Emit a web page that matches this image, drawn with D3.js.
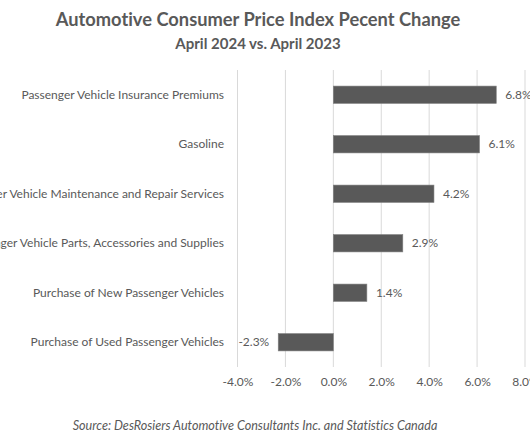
<!DOCTYPE html>
<html>
<head>
<meta charset="utf-8">
<script src="https://cdn.jsdelivr.net/npm/d3@7"></script>
<style>
body { margin: 0; background: #fff; }
svg { display: block; }
text { font-family: Lato, "Open Sans", sans-serif; fill: #595959; font-variant-ligatures: none; }
</style>
</head>
<body>
<svg id="chart" width="530" height="442"></svg>
<script>
const categories = [
  "Passenger Vehicle Insurance Premiums",
  "Gasoline",
  "Passenger Vehicle Maintenance and Repair Services",
  "Passenger Vehicle Parts, Accessories and Supplies",
  "Purchase of New Passenger Vehicles",
  "Purchase of Used Passenger Vehicles"
];
const values = [6.8, 6.1, 4.2, 2.9, 1.4, -2.3];
const tickValues = [-4, -2, 0, 2, 4, 6, 8];
const title = "Automotive Consumer Price Index Pecent Change";
const subtitle = "April 2024 vs. April 2023";
const source = "Source: DesRosiers Automotive Consultants Inc. and Statistics Canada";

const svg = d3.select("#chart");
const x = d3.scaleLinear().domain([-4, 8]).range([237.5, 525]);
const y = d3.scaleBand().domain(categories).range([70, 367]).paddingInner(0.65).paddingOuter(0.325);

// gridlines
svg.append("g").selectAll("line").data(tickValues).join("line")
  .attr("x1", d => x(d)).attr("x2", d => x(d))
  .attr("y1", 70).attr("y2", 367)
  .attr("stroke", "#d9d9d9").attr("stroke-width", 1);

// x axis labels
const xAxis = d3.axisBottom(x).tickValues(tickValues).tickSize(0).tickPadding(0)
  .tickFormat(d => d.toFixed(1) + "%");
const gx = svg.append("g").attr("transform", "translate(0,377)").call(xAxis);
gx.select(".domain").remove();
gx.selectAll("text").attr("font-size", 12).attr("fill", "#595959")
  .style("font-family", "Lato, 'Open Sans', sans-serif");

// category labels
svg.append("g").selectAll("text").data(categories).join("text")
  .attr("x", 224).attr("y", d => y(d) + y.bandwidth() / 2)
  .attr("dy", "0.35em").attr("text-anchor", "end").attr("font-size", 12)
  .text(d => d);

// bars
svg.append("g").selectAll("rect").data(values).join("rect")
  .attr("x", d => x(Math.min(0, d)))
  .attr("width", d => Math.abs(x(d) - x(0)))
  .attr("y", (d, i) => y(categories[i]))
  .attr("height", y.bandwidth())
  .attr("fill", "#595959").attr("stroke", "#7f7f7f").attr("stroke-width", 0.6);

// value labels
svg.append("g").selectAll("text").data(values).join("text")
  .attr("x", d => d >= 0 ? x(d) + 9 : x(d) - 9)
  .attr("y", (d, i) => y(categories[i]) + y.bandwidth() / 2)
  .attr("dy", "0.35em").attr("text-anchor", d => d >= 0 ? "start" : "end")
  .attr("font-size", 12)
  .text(d => d.toFixed(1) + "%");

// titles
svg.append("text").attr("x", 258).attr("y", 26).attr("text-anchor", "middle")
  .attr("font-size", 18.3).attr("font-weight", "bold").text(title);
svg.append("text").attr("x", 258).attr("y", 49).attr("text-anchor", "middle")
  .attr("font-size", 15).attr("font-weight", "bold").text(subtitle);
svg.append("text").attr("x", 255).attr("y", 430).attr("text-anchor", "middle")
  .attr("font-size", 12.6).attr("font-style", "italic").text(source);
</script>
</body>
</html>
